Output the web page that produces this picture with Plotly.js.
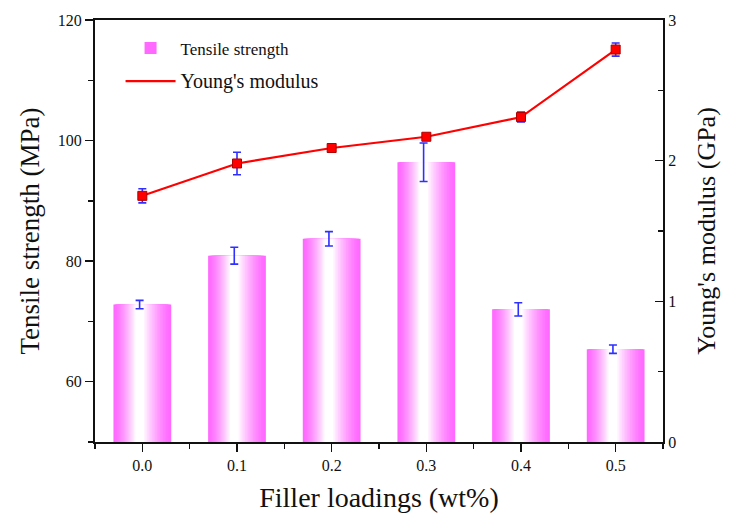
<!DOCTYPE html>
<html>
<head>
<meta charset="utf-8">
<script src="https://cdn.plot.ly/plotly-3.0.1.min.js"></script>
<style>
  html, body { margin: 0; padding: 0; background: #fff; }
  #grafico { width: 736px; height: 529px; }
</style>
</head>
<body>
<div id="grafico"></div>
<script>
// Datos
const loadings = [0.0, 0.1, 0.2, 0.3, 0.4, 0.5];
const tensile = [72.8, 80.9, 83.7, 96.4, 72.0, 65.4];
const tensileErr = [0.7, 1.4, 1.2, 3.2, 1.1, 0.7];
const modulus = [1.75, 1.98, 2.09, 2.17, 2.31, 2.79];
const modulusErr = [0.05, 0.08, 0.03, 0.02, 0.035, 0.047];

const fuente = '"Liberation Serif", "Times New Roman", serif';
const anchoBarra = 0.061;
const capas = 18;

// Mezcla entre magenta y blanco para simular el degradado de las barras
function mezcla(t) {
    const c0 = [255, 105, 255], c1 = [255, 255, 255];
    const c = c0.map((v, i) => Math.round(v + (c1[i] - v) * t));
    return `rgb(${c[0]},${c[1]},${c[2]})`;
}

const trazas = [];
for (let k = 0; k < capas; k++) {
    const t = k / capas;
    const ultima = k === capas - 1;
    // el punto más claro queda un poco a la izquierda del centro
    const izq = -anchoBarra / 2 + 0.40 * anchoBarra * t;
    const der = anchoBarra / 2 - 0.50 * anchoBarra * t;
    trazas.push({
        type: 'bar',
        x: loadings,
        y: tensile,
        offset: izq,
        width: der - izq,
        marker: { color: mezcla(Math.pow(k / (capas - 1), 1.4)), line: { width: 0 } },
        name: 'Tensile strength',
        showlegend: k === 0,
        legendgroup: 'a',
        hoverinfo: 'skip',
        error_y: ultima ? {
            type: 'data', array: tensileErr, visible: true,
            color: '#2f2fff', thickness: 1.6, width: 4
        } : { visible: false }
    });
}

// Línea del módulo (solo para la leyenda y el trazo)
trazas.push({
    type: 'scatter',
    mode: 'lines',
    x: loadings,
    y: modulus,
    yaxis: 'y2',
    line: { color: '#ff0000', width: 2.2 },
    name: "<span style='font-size:20px'>Young's modulus</span>",
    legendgroup: 'b'
});
// Marcadores con barras de error
trazas.push({
    type: 'scatter',
    mode: 'markers',
    x: loadings,
    y: modulus,
    yaxis: 'y2',
    marker: { symbol: 'square', size: 9, color: '#ff0000', line: { color: '#b00000', width: 1 } },
    error_y: { type: 'data', array: modulusErr, visible: true, color: '#2f2fff', thickness: 1.6, width: 4 },
    showlegend: false
});

const layout = {
    width: 736,
    height: 529,
    margin: { l: 95, r: 73, t: 20, b: 87 },
    paper_bgcolor: '#fff',
    plot_bgcolor: '#fff',
    barmode: 'overlay',
    font: { family: fuente, color: '#111', size: 16 },
    showlegend: true,
    legend: {
        x: 0.045, y: 0.975, xanchor: 'left', yanchor: 'top',
        bgcolor: 'rgba(0,0,0,0)',
        font: { family: fuente, size: 17, color: '#111' },
        itemwidth: 50,
        tracegroupgap: 8,
        traceorder: 'grouped'
    },
    xaxis: {
        range: [-0.05, 0.55],
        tickvals: loadings,
        tickformat: '.1f',
        ticks: 'outside', ticklen: 8, tickwidth: 1.5, tickcolor: '#111',
        minor: { dtick: 0.05, tick0: 0.05, ticks: 'outside', ticklen: 5, tickwidth: 1.5, tickcolor: '#111' },
        showline: true, linecolor: '#111', linewidth: 2, mirror: true,
        showgrid: false, zeroline: false,
        tickfont: { family: fuente, size: 16 },
        title: { text: 'Filler loadings (wt%)', font: { family: fuente, size: 28 }, standoff: 14 }
    },
    yaxis: {
        range: [50, 120],
        tick0: 60, dtick: 20,
        ticks: 'outside', ticklen: 8, tickwidth: 1.5, tickcolor: '#111',
        minor: { dtick: 10, tick0: 50, ticks: 'outside', ticklen: 5, tickwidth: 1.5, tickcolor: '#111' },
        showline: true, linecolor: '#111', linewidth: 2,
        showgrid: false, zeroline: false,
        tickfont: { family: fuente, size: 16 },
        title: { text: 'Tensile strength (MPa)', font: { family: fuente, size: 27 }, standoff: 10 }
    },
    yaxis2: {
        overlaying: 'y',
        side: 'right',
        range: [0, 3],
        dtick: 1,
        ticks: 'inside', ticklen: 8, tickwidth: 1.5, tickcolor: '#111',
        minor: { dtick: 0.5, ticks: 'inside', ticklen: 5, tickwidth: 1.5, tickcolor: '#111' },
        showline: true, linecolor: '#111', linewidth: 2,
        showgrid: false, zeroline: false,
        tickfont: { family: fuente, size: 16 },
        title: { text: "Young's modulus (GPa)", font: { family: fuente, size: 26 }, standoff: 22 }
    }
};

Plotly.newPlot('grafico', trazas, layout, { displayModeBar: false, staticPlot: true });
</script>
</body>
</html>
